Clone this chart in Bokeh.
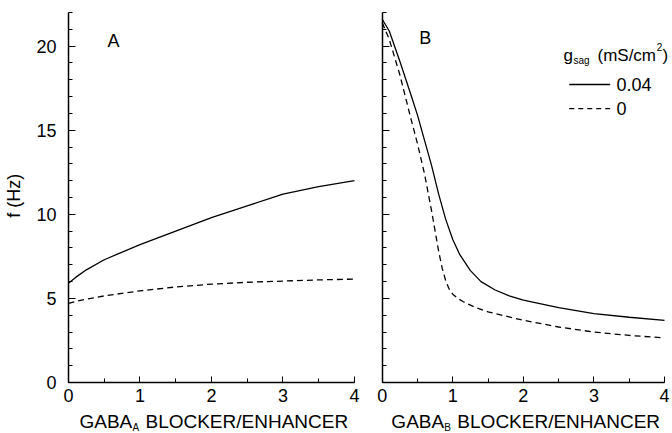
import math
from bokeh.plotting import figure
from bokeh.layouts import row
from bokeh.models import Range1d, SingleIntervalTicker, Label, CustomLabelingPolicy
from bokeh.embed import file_html
from bokeh.resources import INLINE

# Firing frequency f (Hz) versus GABA_A / GABA_B blocker-enhancer scaling
# for two values of the sag conductance g_sag (mS/cm^2).

# Panel A: GABA_A scaling
gaba_a_x = [0, 0.1, 0.25, 0.5, 1.0, 1.5, 2.0, 2.5, 3.0, 3.5, 4.0]
gaba_a_gsag_004 = [5.9, 6.25, 6.7, 7.3, 8.2, 9.0, 9.8, 10.5, 11.2, 11.65, 12.0]
gaba_a_gsag_0 = [4.7, 4.82, 4.95, 5.15, 5.45, 5.68, 5.85, 5.96, 6.03, 6.1, 6.15]

# Panel B: GABA_B scaling
gaba_b_x_004 = [0, 0.1, 0.25, 0.4, 0.5, 0.6, 0.7, 0.8, 0.9, 1.0, 1.1, 1.25,
                1.4, 1.6, 1.8, 2.0, 2.5, 3.0, 3.5, 4.0]
gaba_b_gsag_004 = [21.6, 20.9, 19.1, 17.2, 15.9, 14.4, 12.9, 11.2, 9.7, 8.5,
                   7.6, 6.65, 6.0, 5.5, 5.15, 4.9, 4.45, 4.1, 3.88, 3.7]
gaba_b_x_0 = [0, 0.1, 0.25, 0.4, 0.5, 0.6, 0.7, 0.8, 0.85, 0.9, 0.95, 1.0,
              1.07, 1.15, 1.3, 1.5, 2.0, 2.5, 3.0, 3.5, 4.0]
gaba_b_gsag_0 = [21.4, 20.4, 18.3, 15.8, 14.2, 12.4, 10.2, 7.8, 6.8, 6.05, 5.55,
                 5.25, 5.0, 4.8, 4.5, 4.2, 3.7, 3.3, 3.0, 2.8, 2.65]

x_ticks = [0, 1, 2, 3, 4]
y_ticks = [0, 5, 10, 15, 20]
y_label = "f (Hz)"
legend_title = "g"
legend_sub = "sag"
legend_units = "(mS/cm"
legend_labels = ["0.04", "0"]

FONT = "Liberation Sans"
DASH = "6 4"
Y_RANGE = (-3.032, 22.714)     # frame covers the whole canvas height


def make_panel(width, x_start, show_ylabels):
    # the frame fills the whole canvas; axes are pinned at x = 0 / y = 0
    p = figure(width=width, height=433, output_backend="svg",
               toolbar_location=None,
               x_range=Range1d(x_start, 4.113), y_range=Range1d(*Y_RANGE),
               min_border=0, min_border_left=0, min_border_right=0,
               min_border_top=0, min_border_bottom=0)
    p.outline_line_color = None
    p.xgrid.grid_line_color = None
    p.ygrid.grid_line_color = None
    p.background_fill_color = "white"
    p.border_fill_color = "white"

    p.xaxis.fixed_location = 0
    p.yaxis.fixed_location = 0
    p.xaxis.bounds = (0, 4)
    p.yaxis.bounds = (0, 22)
    p.xaxis.ticker = SingleIntervalTicker(interval=1, num_minor_ticks=2)
    p.yaxis.ticker = SingleIntervalTicker(interval=5, num_minor_ticks=5)
    for ax in (p.xaxis, p.yaxis):
        ax.axis_line_color = "black"
        ax.axis_line_width = 1.5
        ax.major_tick_line_color = "black"
        ax.minor_tick_line_color = "black"
        ax.major_tick_out = 0
        ax.minor_tick_out = 0
        ax.major_label_text_font = FONT
        ax.major_label_text_font_size = "18px"
        ax.major_label_text_color = "black"
    p.xaxis.major_tick_in = 6
    p.xaxis.minor_tick_in = 4
    p.yaxis.major_tick_in = 7
    p.yaxis.minor_tick_in = 4
    p.xaxis.major_label_standoff = 6
    p.yaxis.major_label_standoff = 12
    if not show_ylabels:
        p.yaxis.major_label_policy = CustomLabelingPolicy(
            code="for (const i of indices) indices.unset(i)")
        p.yaxis.major_label_standoff = 0
    return p


def add_text(p, x, y, text, size, baseline="alphabetic", align="left",
             x_offset=0, y_offset=0, angle=0):
    p.add_layout(Label(x=x, y=y, x_offset=x_offset, y_offset=y_offset,
                       text=text, text_font=FONT, text_font_size=size,
                       text_color="black", text_baseline=baseline,
                       text_align=align, angle=angle))


def add_xlabel(p, sub):
    # "GABA<sub> BLOCKER/ENHANCER" centred under the axis
    mid_y = -2.32
    start = -132
    add_text(p, 2, mid_y, "GABA", "19px", baseline="middle", x_offset=start)
    add_text(p, 2, mid_y, sub, "10px", baseline="middle",
             x_offset=start + 53, y_offset=-6)
    add_text(p, 2, mid_y, "BLOCKER/ENHANCER", "19px", baseline="middle",
             x_offset=start + 66)


# ---- Panel A ----
pa = make_panel(362, -0.951, True)
pa.line(gaba_a_x, gaba_a_gsag_004, line_color="black", line_width=1.3)
pa.line(gaba_a_x, gaba_a_gsag_0, line_color="black", line_width=1.3,
        line_dash=DASH)
add_text(pa, -0.76, 11.1, y_label, "18px", baseline="middle",
         align="center", angle=math.pi / 2)
add_text(pa, 0.63, 20.3, "A", "18px", baseline="middle", align="center")
add_xlabel(pa, "A")

# ---- Panel B ----
pb = make_panel(310, -0.279, False)
pb.line(gaba_b_x_004, gaba_b_gsag_004, line_color="black", line_width=1.3)
pb.line(gaba_b_x_0, gaba_b_gsag_0, line_color="black", line_width=1.3,
        line_dash=DASH)
add_text(pb, 0.61, 20.5, "B", "18px", baseline="middle", align="center")
add_xlabel(pb, "B")

# legend block
add_text(pb, 2.57, 19.44, legend_title, "17px")
add_text(pb, 2.71, 19.14, legend_sub, "10px")
add_text(pb, 3.05, 19.44, legend_units, "17px")
add_text(pb, 3.89, 19.92, "2", "10px")
add_text(pb, 3.97, 19.44, ")", "17px")

pb.line([2.65, 3.23], [17.72, 17.72], line_color="black", line_width=1.3)
pb.line([2.65, 3.23], [16.29, 16.29], line_color="black", line_width=1.3,
        line_dash="5 4")
add_text(pb, 3.32, 17.72, legend_labels[0], "18px", baseline="middle")
add_text(pb, 3.32, 16.29, legend_labels[1], "18px", baseline="middle")

layout = row(pa, pb)
open("out.html", "w").write(file_html(layout, INLINE))
